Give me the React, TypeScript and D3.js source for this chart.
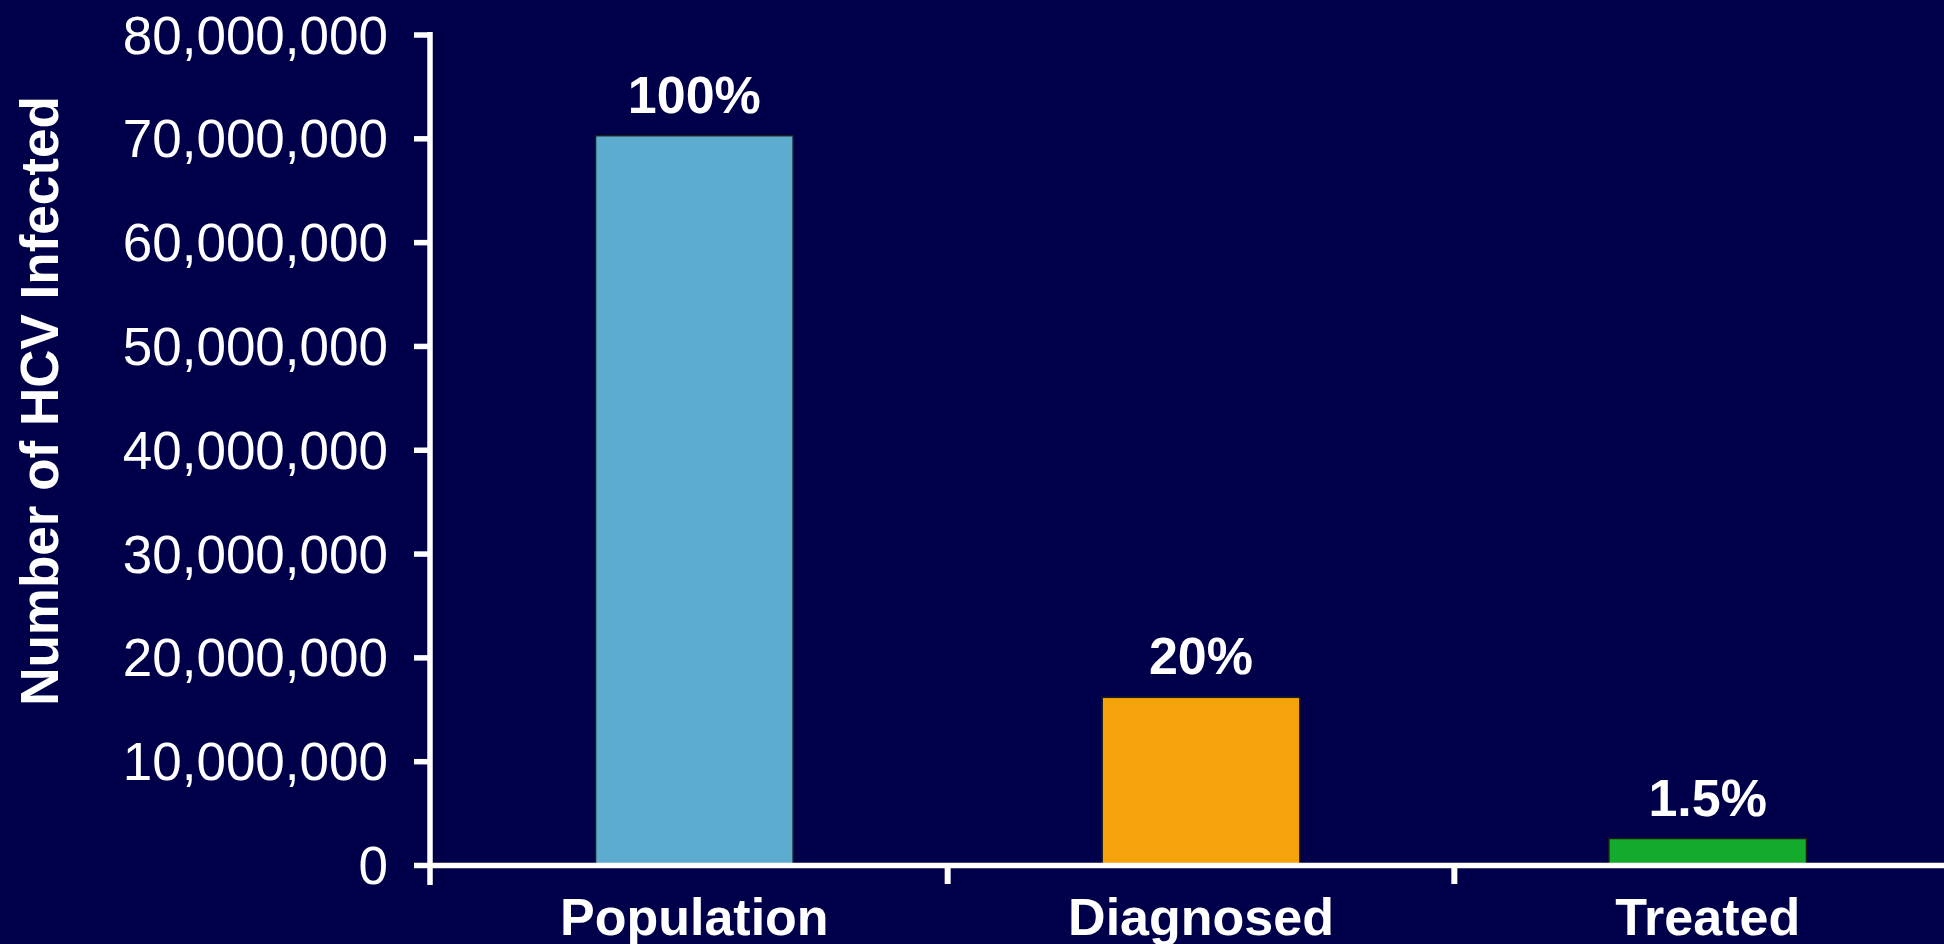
import { useEffect, useRef } from 'react';
import * as d3 from 'd3';

const categories = ['Population', 'Diagnosed', 'Treated'];
const infected = [70300000, 16200000, 2600000];
const shareLabels = ['100%', '20%', '1.5%'];
const barColors = ['#5DACCF', '#F5A30B', '#14AA2E'];
const yTicks = [0, 10000000, 20000000, 30000000, 40000000, 50000000, 60000000, 70000000, 80000000];

export default function App() {
  const containerRef = useRef<HTMLDivElement>(null);

  useEffect(() => {
    if (!containerRef.current) return;
    document.body.style.margin = '0';

    d3.select(containerRef.current).selectAll('*').remove();

    const width = 1944;
    const height = 944;
    const font = '"Liberation Sans", Arial, sans-serif';
    const axisX = 430;
    const baseY = 865.5;

    const svg = d3
      .select(containerRef.current)
      .append('svg')
      .attr('width', width)
      .attr('height', height)
      .style('display', 'block')
      .style('background', '#00004A');

    svg.append('rect').attr('width', width).attr('height', height).attr('fill', '#00004A');

    const xScale = d3
      .scaleBand<string>()
      .domain(categories)
      .range([441, 1961])
      .paddingInner(0.61)
      .paddingOuter(0.305);

    const yScale = d3.scaleLinear().domain([0, 80000000]).range([baseY, 35]);

    // Bars
    categories.forEach((cat, i) => {
      svg
        .append('rect')
        .attr('x', xScale(cat)!)
        .attr('y', yScale(infected[i]))
        .attr('width', xScale.bandwidth())
        .attr('height', baseY - yScale(infected[i]))
        .attr('fill', barColors[i])
        .attr('stroke', '#1c1c1c')
        .attr('stroke-width', 1.5);

      svg
        .append('text')
        .attr('x', xScale(cat)! + xScale.bandwidth() / 2)
        .attr('y', yScale(infected[i]) - 23)
        .attr('text-anchor', 'middle')
        .attr('font-family', font)
        .attr('font-weight', 'bold')
        .attr('font-size', 52)
        .attr('fill', '#ffffff')
        .text(shareLabels[i]);

      svg
        .append('text')
        .attr('x', xScale(cat)! + xScale.bandwidth() / 2)
        .attr('y', 935)
        .attr('text-anchor', 'middle')
        .attr('font-family', font)
        .attr('font-weight', 'bold')
        .attr('font-size', 52)
        .attr('fill', '#ffffff')
        .text(cat);
    });

    // X axis line and category separators
    svg
      .append('line')
      .attr('x1', axisX)
      .attr('x2', width)
      .attr('y1', baseY)
      .attr('y2', baseY)
      .attr('stroke', '#ffffff')
      .attr('stroke-width', 5.5);

    const step = xScale.step();
    const gap = step - xScale.bandwidth();
    categories.slice(0, -1).forEach((cat) => {
      const tx = xScale(cat)! + xScale.bandwidth() + gap / 2;
      svg
        .append('line')
        .attr('x1', tx)
        .attr('x2', tx)
        .attr('y1', baseY)
        .attr('y2', 884)
        .attr('stroke', '#ffffff')
        .attr('stroke-width', 6);
    });

    // Y axis
    svg
      .append('line')
      .attr('x1', axisX)
      .attr('x2', axisX)
      .attr('y1', yScale(80000000) - 3)
      .attr('y2', 885)
      .attr('stroke', '#ffffff')
      .attr('stroke-width', 5.5);

    yTicks.forEach((t) => {
      svg
        .append('line')
        .attr('x1', 414)
        .attr('x2', axisX)
        .attr('y1', yScale(t))
        .attr('y2', yScale(t))
        .attr('stroke', '#ffffff')
        .attr('stroke-width', 5.5);

      svg
        .append('text')
        .attr('x', 388)
        .attr('y', yScale(t))
        .attr('dy', '0.35em')
        .attr('text-anchor', 'end')
        .attr('font-family', font)
        .attr('font-size', 53)
        .attr('fill', '#ffffff')
        .text(d3.format(',')(t));
    });

    // Y axis title
    svg
      .append('text')
      .attr('transform', 'translate(58, 401) rotate(-90)')
      .attr('text-anchor', 'middle')
      .attr('font-family', font)
      .attr('font-weight', 'bold')
      .attr('font-size', 53)
      .attr('fill', '#ffffff')
      .text('Number of HCV Infected');
  }, []);

  return <div ref={containerRef}></div>;
}
